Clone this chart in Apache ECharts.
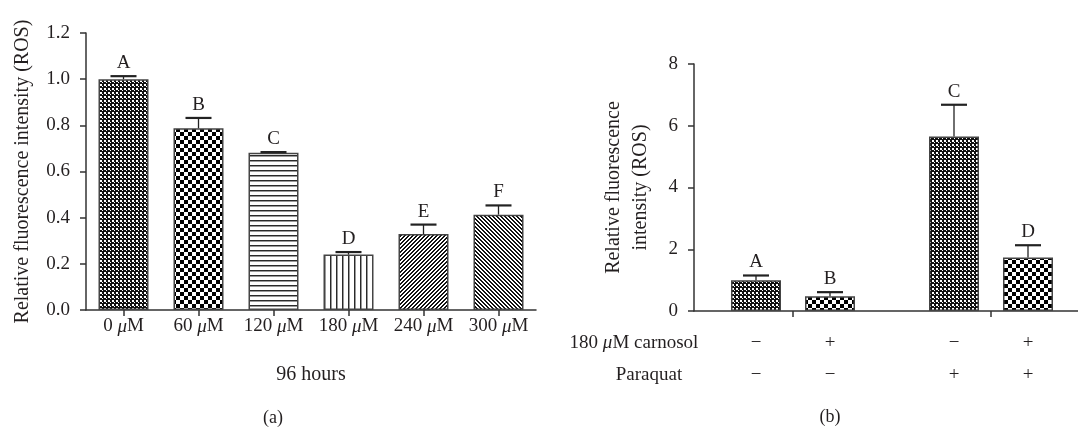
<!DOCTYPE html>
<html><head><meta charset="utf-8">
<script src="https://cdn.jsdelivr.net/npm/echarts@6/dist/echarts.min.js"></script>
<style>html,body{margin:0;padding:0;background:#fff}#c{width:1078px;height:427px}</style>
</head><body><div id="c"></div>
<script>
// ---- Panel (a): 96 hours ----
const concentrations = ['0 μM', '60 μM', '120 μM', '180 μM', '240 μM', '300 μM'];
const rosMean96h = [1.0, 0.787, 0.681, 0.240, 0.329, 0.413];
const rosSem96h = [0.013, 0.045, 0.003, 0.011, 0.041, 0.040];
const letters96h = ['A', 'B', 'C', 'D', 'E', 'F'];

// ---- Panel (b): carnosol / paraquat ----
const paraquatGroups = ['Paraquat −', 'Paraquat +'];
const paraquatSigns = ['−', '+'];
const carnosolSigns = ['−', '+'];
const meanNoCarnosol = [1.0, 5.65];
const semNoCarnosol = [0.15, 1.03];
const lettersNoCarnosol = ['A', 'C'];
const meanCarnosol = [0.48, 1.73];
const semCarnosol = [0.13, 0.40];
const lettersCarnosol = ['B', 'D'];

const FONT = '"Liberation Serif", "Times New Roman", serif';
const TXT = '#231f20';
const AX = '#333';

function tile(w, h, draw) {
  const c = document.createElement('canvas');
  c.width = w; c.height = h;
  const g = c.getContext('2d');
  g.fillStyle = '#fff'; g.fillRect(0, 0, w, h);
  draw(g);
  return { image: c, repeat: 'repeat' };
}
const patFine = tile(4, 4, g => { g.fillStyle = '#111'; g.fillRect(0, 0, 4, 4); g.fillStyle = '#fff'; g.fillRect(0, 0, 2, 2); g.fillRect(2, 2, 1, 1); });
const patChecker = tile(8, 8, g => { g.fillStyle = '#000'; g.fillRect(0, 0, 4, 4); g.fillRect(4, 4, 4, 4); });
const patHoriz = tile(1, 5, g => { g.fillStyle = '#2a2a2a'; g.fillRect(0, 0, 1, 1); g.fillStyle = '#9a9a9a'; g.fillRect(0, 1, 1, 1); });
const patVert = tile(6, 1, g => { g.fillStyle = '#2a2a2a'; g.fillRect(0, 0, 1, 1); g.fillStyle = '#9a9a9a'; g.fillRect(1, 0, 1, 1); });
const patSlash = tile(4, 4, g => { g.fillStyle = '#111'; for (let y = 0; y < 4; y++) { const x = 3 - y; g.fillRect(x, y, 1, 1); g.fillRect((x + 1) % 4, y, 1, 1); } });
const patBack = tile(4, 4, g => { g.fillStyle = '#111'; for (let y = 0; y < 4; y++) { g.fillRect(y, y, 1, 1); g.fillRect((y + 1) % 4, y, 1, 1); } });
const leftPatterns = [patFine, patChecker, patHoriz, patVert, patSlash, patBack];

const rich = { i: { fontStyle: 'italic', fontFamily: FONT, fontSize: 19, color: TXT } };
const muFmt = s => s.replace('μ', '{i|μ}');

function errRender(letters, groupIdx, count, signs) {
  return function (params, api) {
    const cat = api.value(0), mean = api.value(1), sem = api.value(2);
    let off = 0;
    if (count > 1) {
      const lay = api.barLayout({ barWidth: 50, barGap: '48%', count: count });
      off = lay[groupIdx].offsetCenter;
    }
    const top = api.coord([cat, mean]);
    const cap = api.coord([cat, mean + sem]);
    const base = api.coord([cat, 0]);
    const x = top[0] + off;
    const children = [
      { type: 'line', shape: { x1: x, y1: top[1], x2: x, y2: cap[1] }, style: { stroke: '#222', lineWidth: 1.3 } },
      { type: 'line', shape: { x1: x - 13, y1: cap[1], x2: x + 13, y2: cap[1] }, style: { stroke: '#222', lineWidth: 2.2 } },
      { type: 'text', style: { text: letters[params.dataIndex], x: x, y: cap[1] - 13, align: 'center', verticalAlign: 'middle', fill: TXT, font: '19px ' + FONT } }
    ];
    if (signs) {
      children.push({ type: 'text', style: { text: signs.carnosol, x: x, y: base[1] + 32, align: 'center', verticalAlign: 'middle', fill: TXT, font: '19px ' + FONT } });
      children.push({ type: 'text', style: { text: signs.paraquat[params.dataIndex], x: x, y: base[1] + 64, align: 'center', verticalAlign: 'middle', fill: TXT, font: '19px ' + FONT } });
    }
    return { type: 'group', children: children };
  };
}

const axisCommon = {
  axisLine: { show: true, lineStyle: { color: AX, width: 1.5 } },
  axisTick: { show: true, length: 6, lineStyle: { color: AX, width: 1.5 } },
  splitLine: { show: false },
  axisLabel: { fontFamily: FONT, fontSize: 19, color: TXT, margin: 16 },
  nameTextStyle: { fontFamily: FONT, fontSize: 20, color: TXT }
};

const option = {
  animation: false,
  backgroundColor: '#fff',
  grid: [
    { left: 86, top: 33, width: 450, height: 277, outerBoundsMode: 'none', containLabel: false },
    { left: 694, top: 64, width: 396, height: 247, outerBoundsMode: 'none', containLabel: false }
  ],
  xAxis: [
    Object.assign({}, axisCommon, {
      type: 'category', gridIndex: 0, data: concentrations,
      axisTick: { show: true, alignWithLabel: true, length: 6, lineStyle: { color: AX, width: 1.5 } },
      axisLabel: { fontFamily: FONT, fontSize: 19, color: TXT, margin: 7, interval: 0, hideOverlap: false, formatter: muFmt, rich: rich },
      name: '96 hours', nameLocation: 'middle', nameGap: 55
    }),
    Object.assign({}, axisCommon, {
      type: 'category', gridIndex: 1, data: paraquatGroups,
      axisTick: { show: true, alignWithLabel: true, length: 6, lineStyle: { color: AX, width: 1.5 } },
      axisLabel: { show: false }
    })
  ],
  yAxis: [
    Object.assign({}, axisCommon, {
      type: 'value', gridIndex: 0, min: 0, max: 1.2, interval: 0.2,
      axisLabel: { fontFamily: FONT, fontSize: 19, color: TXT, margin: 16, formatter: v => v.toFixed(1) },
      name: 'Relative fluorescence intensity (ROS)', nameLocation: 'middle', nameGap: 53, nameRotate: 90
    }),
    Object.assign({}, axisCommon, {
      type: 'value', gridIndex: 1, min: 0, max: 8, interval: 2,
      name: 'Relative fluorescence\nintensity (ROS)', nameLocation: 'middle', nameGap: 40, nameRotate: 90,
      nameTextStyle: { fontFamily: FONT, fontSize: 20, color: TXT, lineHeight: 27 }
    })
  ],
  series: [
    {
      type: 'bar', xAxisIndex: 0, yAxisIndex: 0, barWidth: 50,
      itemStyle: { borderColor: '#444', borderWidth: 1.5 },
      data: rosMean96h.map((v, i) => ({ value: v, itemStyle: { color: leftPatterns[i] } }))
    },
    {
      type: 'custom', xAxisIndex: 0, yAxisIndex: 0, clip: false, z: 5,
      encode: { x: 0, y: 1 },
      data: rosMean96h.map((v, i) => [i, v, rosSem96h[i]]),
      renderItem: errRender(letters96h, 0, 1, null)
    },
    {
      type: 'bar', xAxisIndex: 1, yAxisIndex: 1, barWidth: 50, barGap: '48%',
      itemStyle: { color: patFine, borderColor: '#444', borderWidth: 1.5 },
      data: meanNoCarnosol
    },
    {
      type: 'bar', xAxisIndex: 1, yAxisIndex: 1, barWidth: 50, barGap: '48%',
      itemStyle: { color: patChecker, borderColor: '#444', borderWidth: 1.5 },
      data: meanCarnosol
    },
    {
      type: 'custom', xAxisIndex: 1, yAxisIndex: 1, clip: false, z: 5,
      encode: { x: 0, y: 1 },
      data: meanNoCarnosol.map((v, i) => [i, v, semNoCarnosol[i]]),
      renderItem: errRender(lettersNoCarnosol, 0, 2, { carnosol: carnosolSigns[0], paraquat: paraquatSigns })
    },
    {
      type: 'custom', xAxisIndex: 1, yAxisIndex: 1, clip: false, z: 5,
      encode: { x: 0, y: 1 },
      data: meanCarnosol.map((v, i) => [i, v, semCarnosol[i]]),
      renderItem: errRender(lettersCarnosol, 1, 2, { carnosol: carnosolSigns[1], paraquat: paraquatSigns })
    }
  ],
  graphic: [
    { type: 'text', x: 634, y: 343, style: { text: '180 {i|μ}M carnosol', align: 'center', verticalAlign: 'middle', fill: TXT, font: '19px ' + FONT, rich: rich } },
    { type: 'text', x: 649, y: 375, style: { text: 'Paraquat', align: 'center', verticalAlign: 'middle', fill: TXT, font: '19px ' + FONT } },
    { type: 'text', x: 273, y: 418, style: { text: '(a)', align: 'center', verticalAlign: 'middle', fill: TXT, font: '18px ' + FONT } },
    { type: 'text', x: 830, y: 417, style: { text: '(b)', align: 'center', verticalAlign: 'middle', fill: TXT, font: '18px ' + FONT } }
  ]
};

const chart = echarts.init(document.getElementById('c'));
chart.setOption(option);
</script>
</body></html>
